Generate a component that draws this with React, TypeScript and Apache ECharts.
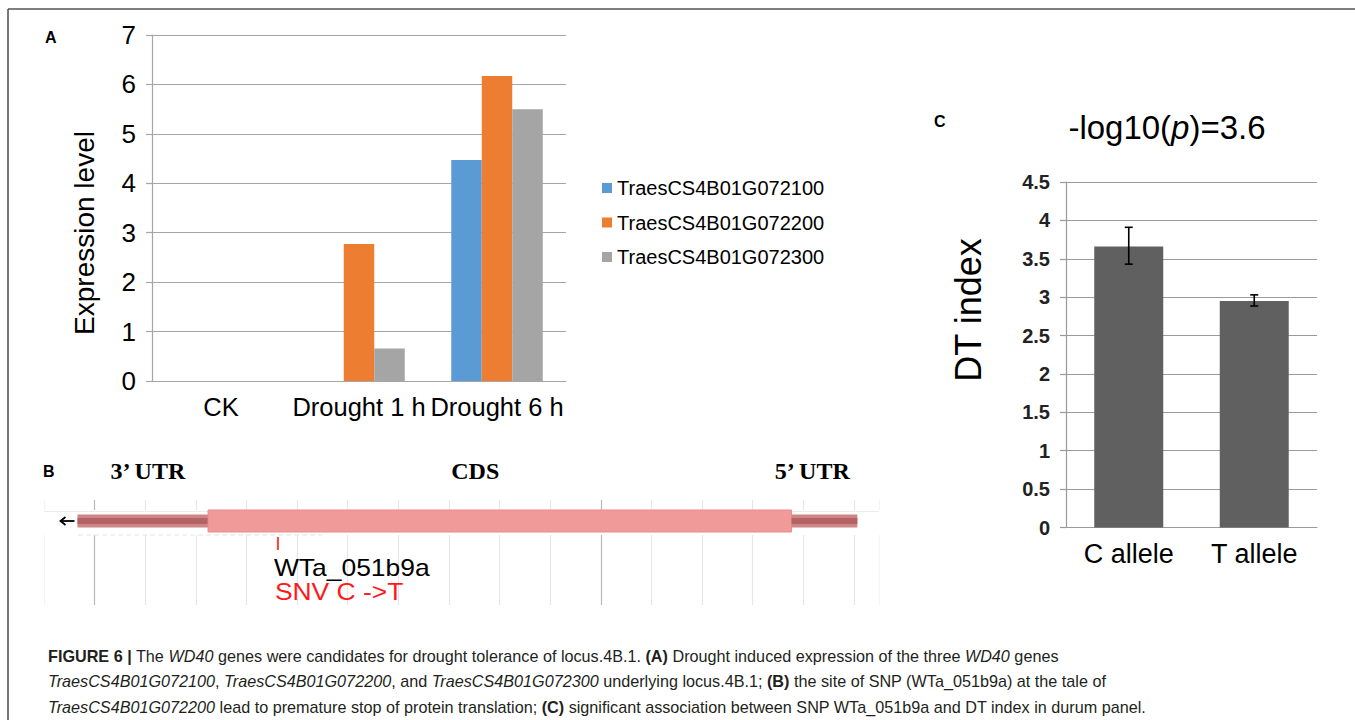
import React, { useEffect, useRef } from "react";
import * as echarts from "echarts";

// ---------- Panel A data ----------
const conditions = ["CK", "Drought 1 h", "Drought 6 h"];
const geneNames = ["TraesCS4B01G072100", "TraesCS4B01G072200", "TraesCS4B01G072300"];
const expr072100 = [0, 0, 4.47];
const expr072200 = [0, 2.77, 6.17];
const expr072300 = [0, 0.66, 5.5];
const geneColors = ["#5b9bd5", "#ed7d31", "#a5a5a5"];

// ---------- Panel C data ----------
const alleles = ["C allele", "T allele"];
const dtMean = [3.66, 2.95];
const dtLow = [3.43, 2.885];
const dtHigh = [3.91, 3.03];

// ---------- Panel B data (gene model, grid units) ----------
const segStart = [-0.34, 2.24, 13.77];
const segEnd = [2.24, 13.77, 15.07];
const segKind = [0, 1, 0]; // 0 = UTR, 1 = CDS
const regionLabels = ["3\u2019 UTR", "CDS", "5\u2019 UTR"];
const regionLabelAt = [1.05, 7.52, 14.18];
const snpPos = [3.62];
const snpName = ["WTa_051b9a"];
const snpChange = ["SNV C ->T"];
const trackRange = [-1, 15.5];

const SANS = '"Liberation Sans", Arial, Helvetica, sans-serif';
const SERIF = '"Liberation Serif", "Times New Roman", serif';

const TRACK_Y = 0.8;

const splitColors = [
  "#f4f4f4", "#b8b8b8", "#e6e6e6", "#e6e6e6", "#e6e6e6", "#e6e6e6", "#e6e6e6",
  "#e6e6e6", "#e6e6e6", "#e6e6e6", "#e6e6e6", "#b8b8b8", "#e6e6e6", "#e6e6e6",
  "#e6e6e6", "#e6e6e6", "#e6e6e6",
];

function buildOption(): any {
  const capStyle = { fill: "#231f20", fontSize: 16.2, fontFamily: SANS, lineHeight: 25.5 };
  const caption =
    "{b|FIGURE 6 |}{n| The }{i|WD40}{n| genes were candidates for drought tolerance of locus.4B.1. }{b|(A)}{n| Drought induced expression of the three }{i|WD40}{n| genes}\n" +
    "{i|TraesCS4B01G072100}{n|, }{i|TraesCS4B01G072200}{n|, and }{i|TraesCS4B01G072300}{n| underlying locus.4B.1; }{b|(B)}{n| the site of SNP (WTa_051b9a) at the tale of}\n" +
    "{i|TraesCS4B01G072200}{n| lead to premature stop of protein translation; }{b|(C)}{n| significant association between SNP WTa_051b9a and DT index in durum panel.}";

  return {
    animation: false,
    backgroundColor: "#ffffff",
    textStyle: { fontFamily: SANS },
    legend: {
      data: geneNames,
      orient: "vertical",
      left: 597,
      top: 173,
      itemWidth: 10,
      itemHeight: 10,
      itemGap: 14.5,
      icon: "rect",
      textStyle: { fontSize: 20, color: "#000", fontFamily: SANS },
    },
    grid: [
      { left: 152, top: 35, width: 414, height: 346 },
      { left: 1066, top: 182, width: 251, height: 345.5 },
      { left: 44.1, top: 500, width: 835, height: 105 },
    ],
    xAxis: [
      {
        type: "category",
        gridIndex: 0,
        data: conditions,
        axisLine: { lineStyle: { color: "#a6a6a6", width: 1.2 } },
        axisTick: { length: 8, lineStyle: { color: "#a6a6a6", width: 1.2 } },
        axisLabel: { fontSize: 25.5, color: "#000", margin: 13, fontFamily: SANS, interval: 0, hideOverlap: false },
      },
      {
        type: "category",
        gridIndex: 1,
        data: alleles,
        axisLine: { lineStyle: { color: "#9a9a9a", width: 1.2 } },
        axisTick: { length: 6, lineStyle: { color: "#9a9a9a", width: 1.2 } },
        axisLabel: { fontSize: 27, color: "#000", margin: 13, fontFamily: SANS, interval: 0 },
      },
      {
        type: "value",
        gridIndex: 2,
        min: trackRange[0],
        max: trackRange[1],
        interval: 1,
        axisLine: { show: false },
        axisTick: { show: false },
        axisLabel: { show: false },
        splitLine: { show: true, lineStyle: { color: splitColors, width: 1.2 } },
      },
    ],
    yAxis: [
      {
        type: "value",
        gridIndex: 0,
        min: 0,
        max: 7,
        interval: 1,
        axisLine: { show: true, lineStyle: { color: "#a6a6a6", width: 1.2 } },
        axisTick: { show: true, length: 6, lineStyle: { color: "#a6a6a6", width: 1.2 } },
        axisLabel: { fontSize: 26, color: "#000", margin: 16, fontFamily: SANS },
        splitLine: { lineStyle: { color: "#a6a6a6", width: 1.2 } },
      },
      {
        type: "value",
        gridIndex: 1,
        min: 0,
        max: 4.5,
        interval: 0.5,
        axisLine: { show: true, lineStyle: { color: "#9a9a9a", width: 1.2 } },
        axisTick: { show: true, length: 6, lineStyle: { color: "#9a9a9a", width: 1.2 } },
        axisLabel: { fontSize: 20, fontWeight: "bold", color: "#222", margin: 16, fontFamily: SANS },
        splitLine: { lineStyle: { color: "#9a9a9a", width: 1.2 } },
      },
      {
        type: "value",
        gridIndex: 2,
        min: 0,
        max: 1,
        show: false,
        splitLine: { show: false },
      },
    ],
    series: [
      {
        name: geneNames[0],
        type: "bar",
        xAxisIndex: 0,
        yAxisIndex: 0,
        data: expr072100,
        barWidth: 30.5,
        barGap: "0%",
        itemStyle: { color: geneColors[0] },
      },
      {
        name: geneNames[1],
        type: "bar",
        xAxisIndex: 0,
        yAxisIndex: 0,
        data: expr072200,
        barWidth: 30.5,
        barGap: "0%",
        itemStyle: { color: geneColors[1] },
      },
      {
        name: geneNames[2],
        type: "bar",
        xAxisIndex: 0,
        yAxisIndex: 0,
        data: expr072300,
        barWidth: 30.5,
        barGap: "0%",
        itemStyle: { color: geneColors[2] },
      },
      {
        name: "DT index",
        type: "bar",
        xAxisIndex: 1,
        yAxisIndex: 1,
        data: dtMean,
        barWidth: 69,
        itemStyle: { color: "#606060" },
      },
      {
        name: "DT error",
        type: "custom",
        xAxisIndex: 1,
        yAxisIndex: 1,
        z: 5,
        data: alleles.map((_, i) => [i, dtLow[i], dtHigh[i]]),
        renderItem: (params: any, api: any) => {
          const lo = api.coord([api.value(0), api.value(1)]);
          const hi = api.coord([api.value(0), api.value(2)]);
          const w = 4;
          const st = { stroke: "#000", lineWidth: 1.6 };
          return {
            type: "group",
            children: [
              { type: "line", shape: { x1: lo[0], y1: lo[1], x2: hi[0], y2: hi[1] }, style: st },
              { type: "line", shape: { x1: lo[0] - w, y1: lo[1], x2: lo[0] + w, y2: lo[1] }, style: st },
              { type: "line", shape: { x1: hi[0] - w, y1: hi[1], x2: hi[0] + w, y2: hi[1] }, style: st },
            ],
          };
        },
      },
      // Panel B: white track band
      {
        name: "track",
        type: "custom",
        xAxisIndex: 2,
        yAxisIndex: 2,
        z: 1,
        data: [[trackRange[0], trackRange[1]]],
        renderItem: (params: any, api: any) => {
          const a = api.coord([api.value(0), TRACK_Y]);
          const b = api.coord([api.value(1), TRACK_Y]);
          return {
            type: "group",
            children: [
              { type: "rect", shape: { x: a[0] - 2, y: a[1] - 11, width: b[0] - a[0] + 4, height: 25 }, style: { fill: "#ffffff" } },
              { type: "line", shape: { x1: a[0], y1: a[1] - 9.5, x2: b[0], y2: a[1] - 9.5 }, style: { stroke: "#ececec", lineWidth: 1 } },
              { type: "line", shape: { x1: api.coord([-0.33, 0])[0], y1: a[1] + 14, x2: api.coord([4.5, 0])[0], y2: a[1] + 14 }, style: { stroke: "#e4e4e4", lineWidth: 1, lineDash: [5, 3] } },
            ],
          };
        },
      },
      // Panel B: gene segments
      {
        name: "gene",
        type: "custom",
        xAxisIndex: 2,
        yAxisIndex: 2,
        z: 3,
        data: segStart.map((s, i) => [s, segEnd[i], segKind[i]]),
        renderItem: (params: any, api: any) => {
          const s = api.coord([api.value(0), TRACK_Y]);
          const e = api.coord([api.value(1), TRACK_Y]);
          const kind = api.value(2);
          const children: any[] = [];
          if (kind === 1) {
            children.push({
              type: "rect",
              shape: { x: s[0], y: s[1] - 11, width: e[0] - s[0], height: 22 },
              style: { fill: "#f19a9a", stroke: "#e98b8b", lineWidth: 1 },
            });
          } else {
            children.push({
              type: "rect",
              shape: { x: s[0], y: s[1] - 6.5, width: e[0] - s[0], height: 13 },
              style: { fill: "#cf8585" },
            });
            children.push({
              type: "rect",
              shape: { x: s[0], y: s[1] - 3, width: e[0] - s[0], height: 6 },
              style: { fill: "#b36363" },
            });
          }
          if (params.dataIndex === 0) {
            const tipX = s[0] - 17;
            children.push({
              type: "line",
              shape: { x1: tipX + 1, y1: s[1], x2: s[0] - 3, y2: s[1] },
              style: { stroke: "#000", lineWidth: 1.8 },
            });
            children.push({
              type: "polyline",
              shape: { points: [[tipX + 5, s[1] - 4], [tipX, s[1]], [tipX + 5, s[1] + 4]] },
              style: { stroke: "#000", lineWidth: 1.8, fill: null },
            });
          }
          return { type: "group", children };
        },
      },
      // Panel B: region labels
      {
        name: "regions",
        type: "custom",
        xAxisIndex: 2,
        yAxisIndex: 2,
        z: 3,
        data: regionLabelAt.map((x) => [x]),
        renderItem: (params: any, api: any) => {
          const p = api.coord([api.value(0), TRACK_Y]);
          return {
            type: "text",
            x: p[0],
            y: p[1] - 50,
            style: {
              text: regionLabels[params.dataIndex],
              fill: "#000",
              fontSize: 24,
              fontWeight: "bold",
              fontFamily: SERIF,
              align: "center",
              verticalAlign: "middle",
            },
          };
        },
      },
      // Panel B: SNP marker
      {
        name: "snp",
        type: "custom",
        xAxisIndex: 2,
        yAxisIndex: 2,
        z: 4,
        data: snpPos.map((x) => [x]),
        renderItem: (params: any, api: any) => {
          const p = api.coord([api.value(0), TRACK_Y]);
          const i = params.dataIndex;
          return {
            type: "group",
            children: [
              { type: "line", shape: { x1: p[0], y1: p[1] + 16, x2: p[0], y2: p[1] + 29 }, style: { stroke: "#ff4040", lineWidth: 2 } },
              {
                type: "text",
                x: p[0] - 4,
                y: p[1] + 47,
                scaleX: 1.15,
                style: { text: snpName[i], fill: "#000", fontSize: 23, fontFamily: SANS, align: "left", verticalAlign: "middle" },
              },
              {
                type: "text",
                x: p[0] - 3,
                y: p[1] + 71,
                scaleX: 1.15,
                style: { text: snpChange[i], fill: "#ff1a1a", fontSize: 23, fontFamily: SANS, align: "left", verticalAlign: "middle" },
              },
            ],
          };
        },
      },
    ],
    graphic: [
      { type: "line", shape: { x1: 8, y1: 9, x2: 1355, y2: 9 }, style: { stroke: "#555", lineWidth: 1.6 } },
      { type: "line", shape: { x1: 8, y1: 9, x2: 8, y2: 720 }, style: { stroke: "#555", lineWidth: 1.6 } },
      { type: "text", x: 45, y: 37, style: { text: "A", fontSize: 16, fontWeight: "bold", fill: "#000", fontFamily: SANS, verticalAlign: "middle" } },
      { type: "text", x: 43, y: 471, style: { text: "B", fontSize: 16, fontWeight: "bold", fill: "#000", fontFamily: SANS, verticalAlign: "middle" } },
      { type: "text", x: 934, y: 121, style: { text: "C", fontSize: 16, fontWeight: "bold", fill: "#000", fontFamily: SANS, verticalAlign: "middle" } },
      {
        type: "text",
        x: 84,
        y: 233,
        rotation: Math.PI / 2,
        style: { text: "Expression level", fontSize: 28, fill: "#000", fontFamily: SANS, align: "center", verticalAlign: "middle" },
      },
      {
        type: "text",
        x: 968,
        y: 310,
        rotation: Math.PI / 2,
        style: { text: "DT index", fontSize: 36, fill: "#000", fontFamily: SANS, align: "center", verticalAlign: "middle" },
      },
      {
        type: "text",
        x: 1167,
        y: 127,
        style: {
          text: "{n|-log10(}{i|p}{n|)=3.6}",
          align: "center",
          verticalAlign: "middle",
          rich: {
            n: { fontSize: 33, fontFamily: SANS, fill: "#000" },
            i: { fontSize: 33, fontFamily: SANS, fontStyle: "italic", fill: "#000" },
          },
        },
      },
      {
        type: "text",
        x: 48,
        y: 643,
        style: {
          text: caption,
          rich: {
            n: { ...capStyle },
            i: { ...capStyle, fontStyle: "italic" },
            b: { ...capStyle, fontWeight: "bold" },
          },
        },
      },
    ],
  };
}

export default function App() {
  const ref = useRef<HTMLDivElement>(null);
  useEffect(() => {
    if (!ref.current) return;
    const chart = echarts.init(ref.current, undefined, { renderer: "svg" });
    chart.setOption(buildOption());
    return () => chart.dispose();
  }, []);
  return (
    <div
      ref={ref}
      style={{ position: "fixed", left: 0, top: 0, width: 1355, height: 720, background: "#fff" }}
    />
  );
}
